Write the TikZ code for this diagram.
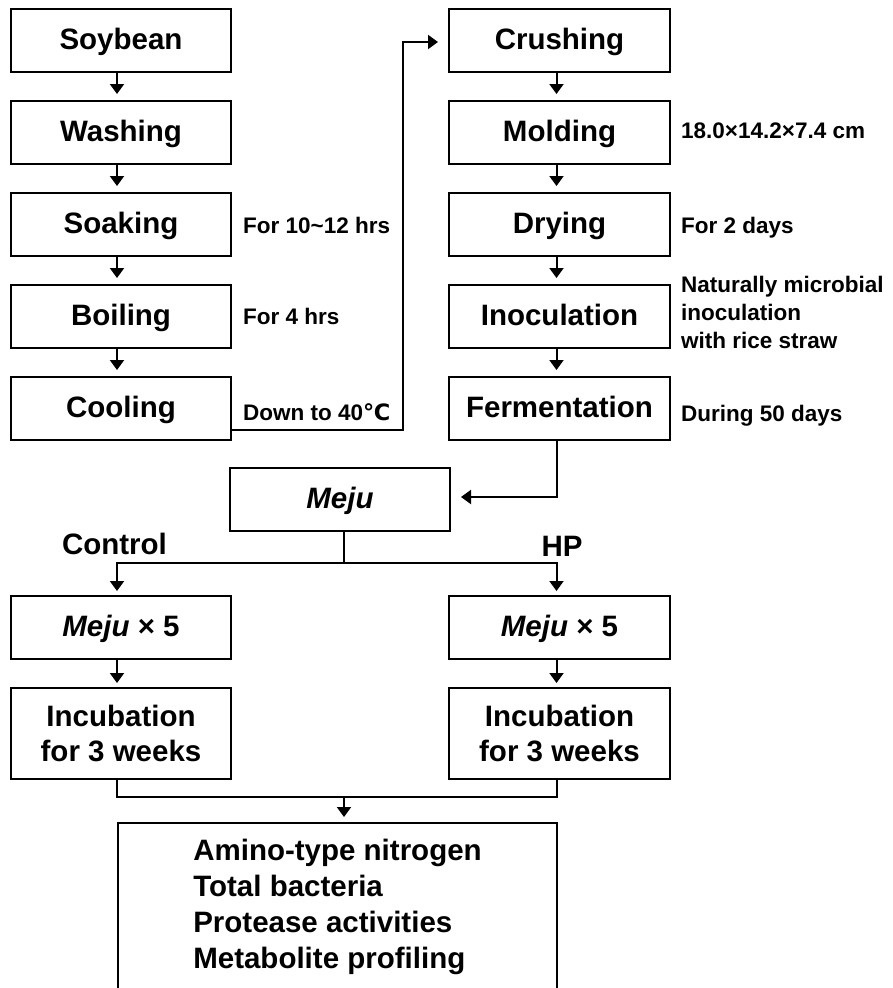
\documentclass[tikz,border=0pt]{standalone}
\usepackage{fontspec}
\setmainfont{Liberation Sans}
\newfontfamily\djv{DejaVu Sans}
\usetikzlibrary{arrows.meta}
\begin{document}
\begin{tikzpicture}[x=1pt,y=-1pt,
  boxbase/.style={draw, line width=2pt, minimum width=220pt, minimum height=63pt, inner sep=0pt,
    font=\fontsize{29.5}{35}\selectfont\bfseries},
  box/.style={boxbase, text height=21pt, text depth=4pt},
  side/.style={anchor=west, inner sep=0pt, font=\fontsize{22.5}{28}\selectfont\bfseries},
  sideone/.style={side, text height=16pt, text depth=0pt},
  lab/.style={inner sep=0pt, font=\fontsize{29.5}{35}\selectfont\bfseries, text height=21pt, text depth=0pt},
  arr/.style={line width=2pt, -{Triangle[length=10pt,width=14pt]}, shorten >=6pt},
  ln/.style={line width=2pt}]
\clip (0,0) rectangle (892,988);
% left column
\node[box] (soy)  at (121,40.5)  {Soybean};
\node[box] (wash) at (121,132.5) {Washing};
\node[box] (soak) at (121,224.5) {Soaking};
\node[box] (boil) at (121,316.5) {Boiling};
\node[box] (cool) at (121,408.5) {Cooling};
% right column
\node[box, minimum width=221pt] (crush) at (559.5,40.5)  {Crushing};
\node[box, minimum width=221pt] (mold)  at (559.5,132.5) {Molding};
\node[box, minimum width=221pt] (dry)   at (559.5,224.5) {Drying};
\node[box, minimum width=221pt] (inoc)  at (559.5,316.5) {Inoculation};
\node[box, minimum width=221pt] (ferm)  at (559.5,408.5) {Fermentation};
% side labels
\node[sideone] (l1) at (243,225) {For 10\textasciitilde12 hrs};
\node[sideone] (l2) at (243,316) {For 4 hrs};
\node[sideone] (l3) at (243,412) {Down to 40{\djv\bfseries ℃}};
\node[sideone] (r1) at (681,130) {18.0×14.2×7.4 cm};
\node[sideone] (r2) at (681,225) {For 2 days};
\node[side, align=left] (r3) at (681,312) {Naturally microbial\\inoculation\\with rice straw};
\node[sideone] (r4) at (681,413) {During 50 days};
% vertical arrows
\foreach \a/\b in {soy/wash, wash/soak, soak/boil, boil/cool}
  \draw[arr] ([xshift=-4pt]\a.south) -- ([xshift=-4pt]\b.north);
\foreach \a/\b in {crush/mold, mold/dry, dry/inoc, inoc/ferm}
  \draw[arr] ([xshift=-3pt]\a.south) -- ([xshift=-3pt]\b.north);
% cooling -> crushing
\coordinate (c1) at (403,430);
\draw[arr, shorten >=10pt] ([yshift=-21.5pt]cool.east) -- (c1) |- ([yshift=-1.5pt]crush.west);
% meju
\node[box] (meju) at (340,499.5) {\textit{Meju}};
\draw[arr, shorten >=10pt] ([xshift=-3pt]ferm.south) |- ([yshift=2.5pt]meju.east);
% split
\node[lab] (ctl) at (114.5,544) {Control};
\node[lab] (hp)  at (562,546) {HP};
\node[box] (m5l) at (121,627.5) {\textit{Meju} × 5};
\node[box, minimum width=221pt] (m5r) at (559.5,627.5) {\textit{Meju} × 5};
\coordinate (j) at (344,563);
\draw[ln] (meju.south -| j) -- (j);
\draw[arr, shorten >=4pt] (j) -| ([xshift=-4pt]m5l.north);
\draw[arr, shorten >=4pt] (j) -| ([xshift=-3pt]m5r.north);
% incubation
\node[boxbase, minimum height=91pt, align=center] (incl) at (121,733.5) {Incubation\\for 3 weeks};
\node[boxbase, minimum height=91pt, minimum width=221pt, align=center] (incr) at (559.5,733.5) {Incubation\\for 3 weeks};
\draw[arr, shorten >=4pt] ([xshift=-4pt]m5l.south) -- ([xshift=-4pt]incl.north);
\draw[arr, shorten >=4pt] ([xshift=-3pt]m5r.south) -- ([xshift=-3pt]incr.north);
% results
\node[draw, line width=2pt, minimum width=439pt, minimum height=168pt, inner sep=0pt, align=left,
  font=\fontsize{29.5}{36}\selectfont\bfseries] (res) at (337.5,907)
  {Amino-type nitrogen\\Total bacteria\\Protease activities\\Metabolite profiling};
\coordinate (k) at (344,797);
\draw[ln] ([xshift=-4pt]incl.south) |- (k) -| ([xshift=-3pt]incr.south);
\draw[arr, shorten >=5pt] (k) -- (res.north -| k);
\end{tikzpicture}
\end{document}
